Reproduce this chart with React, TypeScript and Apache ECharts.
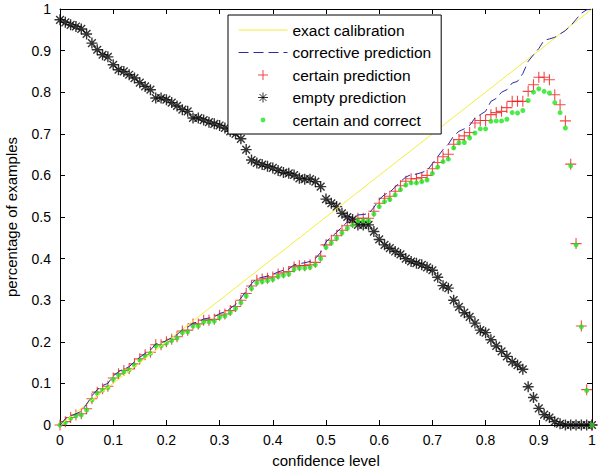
import React, { useEffect, useRef } from "react";
import * as echarts from "echarts";

const confidenceLevels = [
  0, 0.01, 0.02, 0.03, 0.04, 0.05, 0.06, 0.07, 0.08, 0.09,
  0.1, 0.11, 0.12, 0.13, 0.14, 0.15, 0.16, 0.17, 0.18, 0.19,
  0.2, 0.21, 0.22, 0.23, 0.24, 0.25, 0.26, 0.27, 0.28, 0.29,
  0.3, 0.31, 0.32, 0.33, 0.34, 0.35, 0.36, 0.37, 0.38, 0.39,
  0.4, 0.41, 0.42, 0.43, 0.44, 0.45, 0.46, 0.47, 0.48, 0.49,
  0.5, 0.51, 0.52, 0.53, 0.54, 0.55, 0.56, 0.57, 0.58, 0.59,
  0.6, 0.61, 0.62, 0.63, 0.64, 0.65, 0.66, 0.67, 0.68, 0.69,
  0.7, 0.71, 0.72, 0.73, 0.74, 0.75, 0.76, 0.77, 0.78, 0.79,
  0.8, 0.81, 0.82, 0.83, 0.84, 0.85, 0.86, 0.87, 0.88, 0.89,
  0.9, 0.91, 0.92, 0.93, 0.94, 0.95, 0.96, 0.97, 0.98, 0.99,
  1,
];

const exactCalibration = [
  [0, 0],
  [1, 1],
];

const correctivePrediction = [
  0, 0.015, 0.022, 0.027, 0.033, 0.05, 0.07, 0.085, 0.095, 0.1,
  0.118, 0.128, 0.135, 0.14, 0.152, 0.163, 0.172, 0.18, 0.195, 0.197,
  0.203, 0.21, 0.217, 0.23, 0.235, 0.245, 0.248, 0.255, 0.257, 0.26,
  0.268, 0.272, 0.28, 0.29, 0.305, 0.322, 0.34, 0.352, 0.355, 0.358,
  0.362, 0.368, 0.372, 0.375, 0.385, 0.388, 0.39, 0.393, 0.4, 0.415,
  0.44, 0.452, 0.463, 0.476, 0.488, 0.496, 0.505, 0.506, 0.508, 0.523,
  0.542, 0.554, 0.56, 0.572, 0.585, 0.596, 0.602, 0.603, 0.607, 0.612,
  0.628, 0.645, 0.662, 0.675, 0.695, 0.706, 0.712, 0.72, 0.738, 0.746,
  0.754, 0.778, 0.785, 0.8, 0.806, 0.822, 0.826, 0.845, 0.874, 0.89,
  0.905, 0.925, 0.928, 0.932, 0.94, 0.948, 0.96, 0.975, 0.99, 0.998,
  1,
];

const certainPrediction = [
  0, 0.008, 0.018, 0.024, 0.027, 0.039, 0.063, 0.079, 0.087, 0.093,
  0.113, 0.123, 0.131, 0.135, 0.147, 0.159, 0.169, 0.175, 0.193, 0.193,
  0.2, 0.206, 0.212, 0.226, 0.228, 0.243, 0.243, 0.252, 0.252, 0.254,
  0.264, 0.267, 0.275, 0.285, 0.3, 0.316, 0.334, 0.348, 0.351, 0.353,
  0.356, 0.363, 0.366, 0.369, 0.38, 0.383, 0.383, 0.385, 0.391, 0.406,
  0.433, 0.444, 0.455, 0.468, 0.479, 0.487, 0.497, 0.497, 0.497, 0.514,
  0.533, 0.545, 0.55, 0.562, 0.575, 0.586, 0.592, 0.592, 0.595, 0.6,
  0.616, 0.631, 0.645, 0.651, 0.675, 0.686, 0.695, 0.703, 0.726, 0.732,
  0.732, 0.746, 0.751, 0.754, 0.763, 0.778, 0.778, 0.778, 0.802, 0.818,
  0.836, 0.836, 0.83, 0.794, 0.77, 0.731, 0.627, 0.436, 0.238, 0.085,
  0,
];

const emptyPrediction = [
  0.974, 0.968, 0.962, 0.958, 0.952, 0.94, 0.918, 0.902, 0.89, 0.885,
  0.866, 0.854, 0.85, 0.842, 0.834, 0.823, 0.814, 0.806, 0.786, 0.786,
  0.782, 0.775, 0.767, 0.758, 0.754, 0.738, 0.738, 0.733, 0.728, 0.724,
  0.72, 0.714, 0.706, 0.7, 0.688, 0.662, 0.637, 0.63, 0.626, 0.622,
  0.618, 0.612, 0.607, 0.605, 0.601, 0.593, 0.591, 0.591, 0.585, 0.573,
  0.543, 0.533, 0.525, 0.509, 0.5, 0.494, 0.481, 0.481, 0.481, 0.465,
  0.446, 0.433, 0.425, 0.417, 0.41, 0.4, 0.393, 0.389, 0.385, 0.379,
  0.372, 0.355, 0.335, 0.329, 0.3, 0.284, 0.27, 0.26, 0.245, 0.228,
  0.222, 0.205, 0.19, 0.177, 0.165, 0.152, 0.144, 0.134, 0.092, 0.066,
  0.04, 0.025, 0.018, 0.008, 0.003, 0, 0, 0, 0, 0,
  0,
];

const certainAndCorrect = [
  0, 0.006, 0.016, 0.022, 0.024, 0.036, 0.06, 0.076, 0.084, 0.09,
  0.11, 0.12, 0.128, 0.132, 0.144, 0.156, 0.166, 0.172, 0.19, 0.19,
  0.197, 0.203, 0.209, 0.222, 0.224, 0.238, 0.238, 0.248, 0.248, 0.25,
  0.259, 0.262, 0.27, 0.28, 0.294, 0.31, 0.328, 0.342, 0.345, 0.347,
  0.35, 0.357, 0.36, 0.363, 0.374, 0.377, 0.377, 0.379, 0.385, 0.4,
  0.427, 0.438, 0.449, 0.462, 0.473, 0.481, 0.491, 0.491, 0.491, 0.507,
  0.525, 0.537, 0.542, 0.553, 0.566, 0.577, 0.582, 0.582, 0.585, 0.589,
  0.605, 0.62, 0.633, 0.639, 0.666, 0.678, 0.679, 0.69, 0.702, 0.712,
  0.712, 0.73, 0.731, 0.731, 0.735, 0.751, 0.75, 0.756, 0.78, 0.8,
  0.808, 0.802, 0.798, 0.775, 0.751, 0.714, 0.623, 0.433, 0.236, 0.083,
  0,
];

const tickLabels = ["0", "0.1", "0.2", "0.3", "0.4", "0.5", "0.6", "0.7", "0.8", "0.9", "1"];

const seriesNames = [
  "exact calibration",
  "corrective prediction",
  "certain prediction",
  "empty prediction",
  "certain and correct",
];

const FONT = "'Liberation Sans', Arial, sans-serif";
const PLUS = "path://M5,0L5,10M0,5L10,5";
const STAR = "path://M5,0L5,10M0,5L10,5M1.5,1.5L8.5,8.5M8.5,1.5L1.5,8.5";
const DOT_ICON = "path://M0,0M10,10M2.6,5A2.4,2.4,0,1,1,7.4,5A2.4,2.4,0,1,1,2.6,5Z";
const HIDDEN_SYMBOL = { color: "rgba(0,0,0,0)", borderWidth: 0, opacity: 0 };

const pair = (ys: number[]) => confidenceLevels.map((x, i) => [x, ys[i]]);
const fmt = (v: number) => tickLabels[Math.round(v * 10)] ?? "";

export default function App() {
  const ref = useRef<HTMLDivElement>(null);
  useEffect(() => {
    if (!ref.current) return;
    const chart = echarts.init(ref.current, null, { renderer: "svg" });
    const axisCommon = {
      type: "value" as const,
      min: 0,
      max: 1,
      interval: 0.1,
      splitLine: { show: false },
      axisLine: { show: true, onZero: false, lineStyle: { color: "#000", width: 1 } },
      axisTick: { show: true, inside: true, length: 5, lineStyle: { color: "#000" } },
    };
    chart.setOption({
      animation: false,
      backgroundColor: "#fff",
      textStyle: { fontFamily: FONT },
      grid: {
        left: 60,
        right: 8,
        top: 9,
        bottom: 43,
        containLabel: false,
        outerBoundsMode: "none",
      },
      legend: {
        orient: "vertical",
        left: 228,
        top: 15,
        padding: [7, 10, 6, 10],
        itemWidth: 49,
        itemHeight: 10,
        itemGap: 6.5,
        selectedMode: false,
        backgroundColor: "#fff",
        borderColor: "#000",
        borderWidth: 1,
        borderRadius: 0,
        itemStyle: { borderWidth: 1 },
        lineStyle: { width: 1 },
        textStyle: { fontSize: 15.5, color: "#000", fontFamily: FONT },
        data: [
          { name: seriesNames[0], itemStyle: HIDDEN_SYMBOL },
          { name: seriesNames[1], itemStyle: HIDDEN_SYMBOL },
          { name: seriesNames[2] },
          { name: seriesNames[3] },
          { name: seriesNames[4], icon: DOT_ICON },
        ],
      },
      xAxis: [
        {
          ...axisCommon,
          position: "bottom",
          name: "confidence level",
          nameLocation: "middle",
          nameGap: 28,
          nameTextStyle: { fontSize: 15, color: "#000", fontFamily: FONT },
          axisLabel: { fontSize: 14, color: "#000", margin: 8, formatter: fmt, fontFamily: FONT },
        },
        {
          ...axisCommon,
          position: "top",
          axisLabel: { show: false },
        },
      ],
      yAxis: [
        {
          ...axisCommon,
          position: "left",
          name: "percentage of examples",
          nameLocation: "middle",
          nameGap: 41,
          nameTextStyle: { fontSize: 15, color: "#000", fontFamily: FONT },
          axisLabel: { fontSize: 14, color: "#000", margin: 9, formatter: fmt, fontFamily: FONT },
        },
        {
          ...axisCommon,
          position: "right",
          axisLabel: { show: false },
        },
      ],
      series: [
        {
          name: seriesNames[0],
          type: "line",
          data: exactCalibration,
          symbol: "none",
          lineStyle: { color: "#f2ee3a", width: 1 },
          itemStyle: { color: "#f2ee3a" },
        },
        {
          name: seriesNames[1],
          type: "line",
          data: pair(correctivePrediction),
          symbol: "none",
          lineStyle: { color: "#2a2aa6", width: 1, type: [10, 5] },
          itemStyle: { color: "#2a2aa6" },
        },
        {
          name: seriesNames[2],
          type: "scatter",
          data: pair(certainPrediction),
          symbol: PLUS,
          symbolSize: 11,
          itemStyle: { color: "#f01c1c", borderColor: "#f01c1c", borderWidth: 1.1 },
        },
        {
          name: seriesNames[3],
          type: "scatter",
          data: pair(emptyPrediction),
          symbol: STAR,
          symbolSize: 11,
          itemStyle: { color: "#000", borderColor: "#000", borderWidth: 1.4 },
        },
        {
          name: seriesNames[4],
          type: "scatter",
          data: pair(certainAndCorrect),
          symbol: "circle",
          symbolSize: 5,
          itemStyle: { color: "#1ee61e" },
        },
      ],
    });
    return () => chart.dispose();
  }, []);
  return (
    <div
      ref={ref}
      style={{ position: "fixed", left: 0, top: 0, width: 600, height: 468, background: "#fff" }}
    />
  );
}
